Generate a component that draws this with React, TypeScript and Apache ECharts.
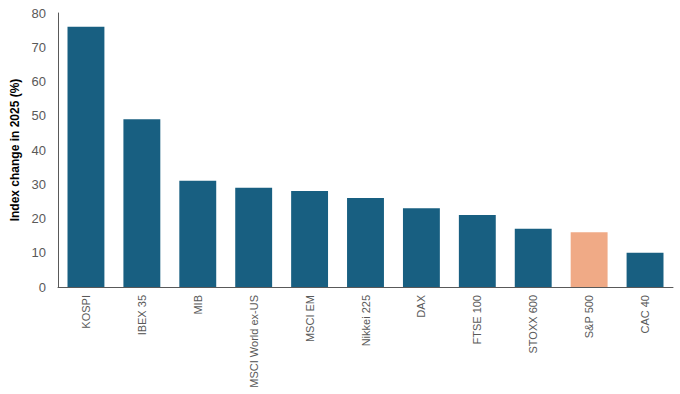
import React, { useEffect, useRef } from "react";
import * as echarts from "echarts";

const categories = ["KOSPI", "IBEX 35", "MIB", "MSCI World ex-US", "MSCI EM", "Nikkei 225", "DAX", "FTSE 100", "STOXX 600", "S&P 500", "CAC 40"];
const values = [76, 49, 31, 29, 28, 26, 23, 21, 17, 16, 10];
const highlight = "S&P 500";
const yTicks = [0, 10, 20, 30, 40, 50, 60, 70, 80];

export default function App() {
  const ref = useRef<HTMLDivElement>(null);
  useEffect(() => {
    const chart = echarts.init(ref.current!, null, { renderer: "svg" });
    const font = "'Liberation Sans', Arial, sans-serif";
    chart.setOption({
      animation: false,
      grid: { left: 58, right: 7, top: 13, bottom: 107, containLabel: false },
      xAxis: {
        type: "category",
        data: categories,
        axisLine: { lineStyle: { color: "#595959", width: 1 } },
        axisTick: { show: false },
        axisLabel: { rotate: 90, color: "#595959", fontSize: 11, fontFamily: font, margin: 8, interval: 0 },
      },
      yAxis: {
        type: "value",
        min: yTicks[0],
        max: yTicks[yTicks.length - 1],
        interval: 10,
        name: "Index change in 2025 (%)",
        nameLocation: "middle",
        nameGap: 32,
        nameTextStyle: { color: "#000", fontSize: 12, fontWeight: "bold", fontFamily: font },
        axisLine: { show: true, lineStyle: { color: "#595959", width: 1 } },
        axisTick: { show: false },
        splitLine: { show: false },
        axisLabel: { color: "#595959", fontSize: 13, fontFamily: font, margin: 12 },
      },
      series: [
        {
          type: "bar",
          barCategoryGap: "34%",
          data: values.map((v, i) => ({
            value: v,
            itemStyle: { color: categories[i] === highlight ? "#F0AA86" : "#185F81" },
          })),
        },
      ],
    });
    return () => chart.dispose();
  }, []);
  return <div ref={ref} style={{ width: 680, height: 394, position: "absolute", left: 0, top: 0 }} />;
}
